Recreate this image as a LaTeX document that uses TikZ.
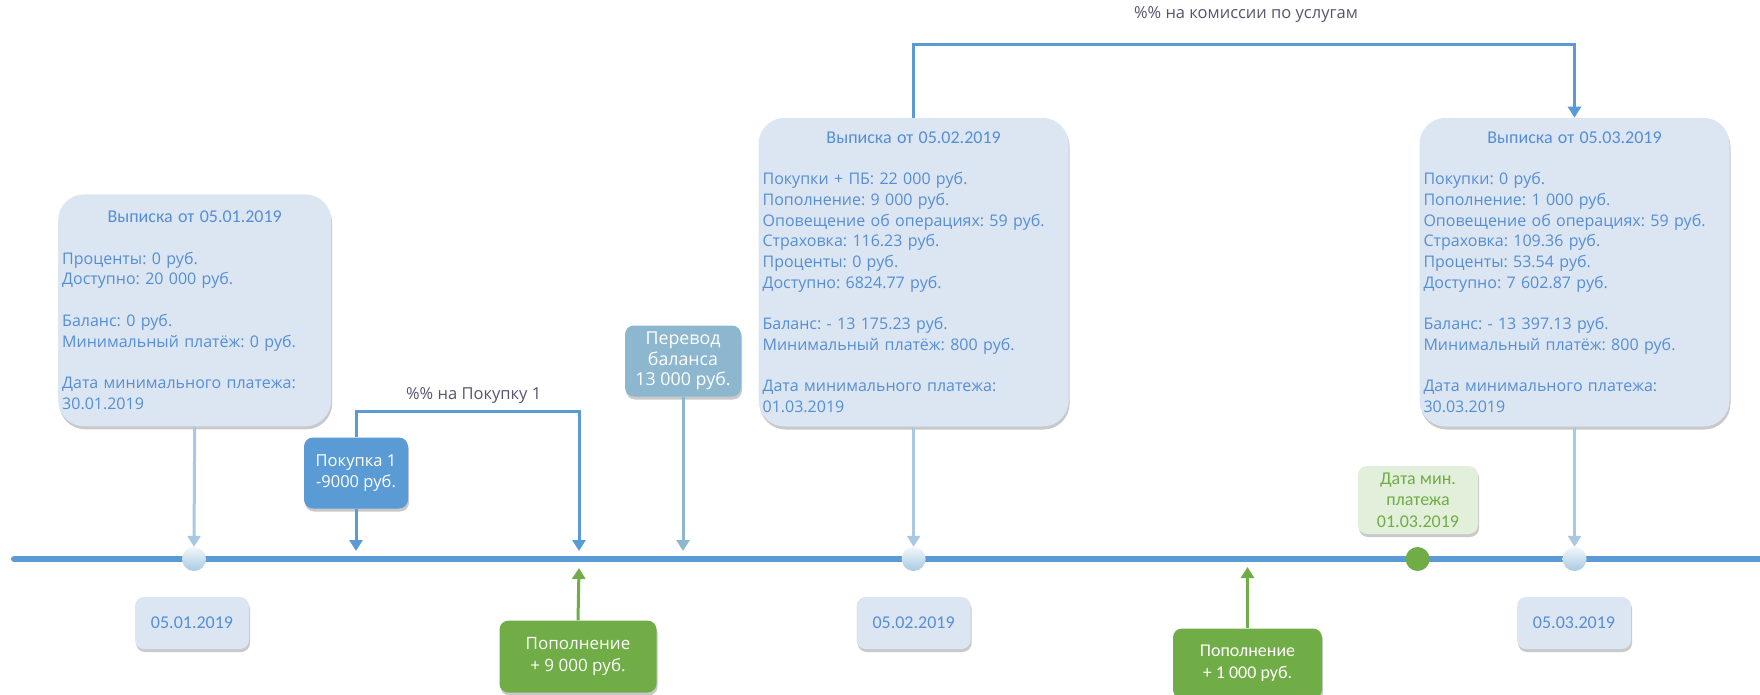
\documentclass[tikz,border=0pt]{standalone}
\usepackage{fontspec}
\setmainfont{Open Sans}
\newfontfamily\calfont{Carlito}
\usetikzlibrary{arrows.meta,shadows}
\definecolor{boxfill}{HTML}{DCE6F2}
\definecolor{boxtext}{HTML}{558ED5}
\definecolor{mblue}{HTML}{5B9BD5}
\definecolor{lblue}{HTML}{A9C9E2}
\definecolor{steel}{HTML}{8DB7CF}
\definecolor{mgreen}{HTML}{70AD47}
\definecolor{lgreen}{HTML}{E2EFDA}
\definecolor{lbl}{HTML}{55556E}
\tikzset{
  shad/.style={drop shadow={shadow xshift=1pt, shadow yshift=-3pt, opacity=.30, fill=black!70}},
  stmt/.style={fill=boxfill, rounded corners=26pt, text=boxtext, inner xsep=4pt, inner ysep=0pt,
    font=\fontsize{16}{20.7}\selectfont, shad},
  datebox/.style={fill=boxfill, rounded corners=9pt, text=boxtext, minimum width=114pt, minimum height=52pt,
    font=\calfont\fontsize{18}{20}\selectfont, shad},
  evbox/.style={rounded corners=9pt, text=white, align=center, inner sep=0pt, shad},
  ball/.style={circle, minimum size=24pt, inner sep=0pt, top color=white!85!lblue, bottom color=lblue},
  gball/.style={circle, minimum size=24pt, inner sep=0pt, fill=mgreen},
  conn/.style={line width=3pt, -{Triangle[length=11pt,width=13pt]}},
  lab/.style={text=lbl, font=\fontsize{16.5}{18}\selectfont},
}
\newcommand{\ttl}[1]{{\calfont\fontsize{18}{20.7}\selectfont #1}}
\begin{document}
\frenchspacing
\begin{tikzpicture}[x=1pt,y=-1pt]
\useasboundingbox (0,0) rectangle (1760,695);
% timeline
\coordinate (tl0) at (14,559);
\coordinate (tl1) at (1770,559);
\draw[mblue, line width=6pt, line cap=round] (tl0) -- (tl1);
% balls
\node[ball] (c1) at (194,559) {};
\node[ball] (c2) at (913.6,559) {};
\node[ball] (c3) at (1574.5,559) {};
\node[gball] (c4) at (1417.6,559) {};
% statements
\node[stmt, text width=265pt, minimum height=232pt] (s1) at (194.7,310.3) {\centering\ttl{Выписка от 05.01.2019}\par\vspace{20.7pt}\raggedright
Проценты: 0 руб.\\
Доступно: 20 000 руб.\\[20.7pt]
Баланс: 0 руб.\\
Минимальный платёж: 0 руб.\\[20.7pt]
Дата минимального платежа:\\
30.01.2019};
\node[stmt, text width=302pt, minimum height=308.6pt] (s2) at (913.6,272.2) {\centering\ttl{Выписка от 05.02.2019}\par\vspace{20.7pt}\raggedright
Покупки + ПБ: 22 000 руб.\\
Пополнение: 9 000 руб.\\
Оповещение об операциях: 59 руб.\\
Страховка: 116.23 руб.\\
Проценты: 0 руб.\\
Доступно: 6824.77 руб.\\[20.7pt]
Баланс: - 13 175.23 руб.\\
Минимальный платёж: 800 руб.\\[20.7pt]
Дата минимального платежа:\\
01.03.2019};
\node[stmt, text width=302pt, minimum height=308.6pt] (s3) at (1574.5,272.2) {\centering\ttl{Выписка от 05.03.2019}\par\vspace{20.7pt}\raggedright
Покупки: 0 руб.\\
Пополнение: 1 000 руб.\\
Оповещение об операциях: 59 руб.\\
Страховка: 109.36 руб.\\
Проценты: 53.54 руб.\\
Доступно: 7 602.87 руб.\\[20.7pt]
Баланс: - 13 397.13 руб.\\
Минимальный платёж: 800 руб.\\[20.7pt]
Дата минимального платежа:\\
30.03.2019};
% date boxes
\node[datebox] (d1) at (192,623) {05.01.2019};
\node[datebox] (d2) at (913.6,623) {05.02.2019};
\node[datebox] (d3) at (1574,623) {05.03.2019};
% event boxes
\node[evbox, fill=mblue, minimum width=104pt, minimum height=71pt, font=\fontsize{16.5}{21}\selectfont] (p1) at (356,473) {Покупка 1\\-9000 руб.};
\node[evbox, fill=steel, minimum width=116pt, minimum height=71pt, font=\fontsize{17.8}{20.7}\selectfont] (pb) at (683,361) {Перевод\\баланса\\13 000 руб.};
\node[evbox, fill=mgreen, minimum width=157pt, minimum height=72pt, font=\fontsize{17}{22}\selectfont] (r1) at (578,656.6) {Пополнение\\+ 9 000 руб.};
\node[evbox, fill=mgreen, minimum width=149pt, minimum height=70pt, font=\calfont\fontsize{18}{22}\selectfont] (r2) at (1247.5,663.5) {Пополнение\\+ 1 000 руб.};
\node[evbox, fill=lgreen, text=mgreen, minimum width=120pt, minimum height=68pt, font=\calfont\fontsize{18}{21.5}\selectfont] (dm) at (1418,500) {Дата мин.\\платежа\\01.03.2019};
% target coordinates on the timeline
\coordinate (t1) at (356,551);
\coordinate (t2) at (579,551);
\coordinate (t3) at (683,551);
\coordinate (u1) at (579,568);
\coordinate (u2) at (1247.5,567);
% connectors
\draw[conn, lblue] (s1.south) -- (c1.north);
\draw[conn, lblue] (s2.south) -- (c2.north);
\draw[conn, lblue] (s3.south) -- (c3.north);
\draw[conn, mblue] (p1.south) -- (t1);
\draw[conn, mblue] (p1.north) -- ++(0,-25.7) -| (t2);
\draw[conn, steel] (pb.south) -- (t3);
\draw[conn, mgreen] (r1.north) -- (u1);
\draw[conn, mgreen] (r2.north) -- (u2);
\draw[conn, mblue] (s2.north) -- ++(0,-73) -| (s3.north);
% labels
\node[lab] (l1) at (473.7,396) {\%\% на Покупку 1};
\node[lab] (l2) at (1246,15) {\%\% на комиссии по услугам};
\end{tikzpicture}
\end{document}
